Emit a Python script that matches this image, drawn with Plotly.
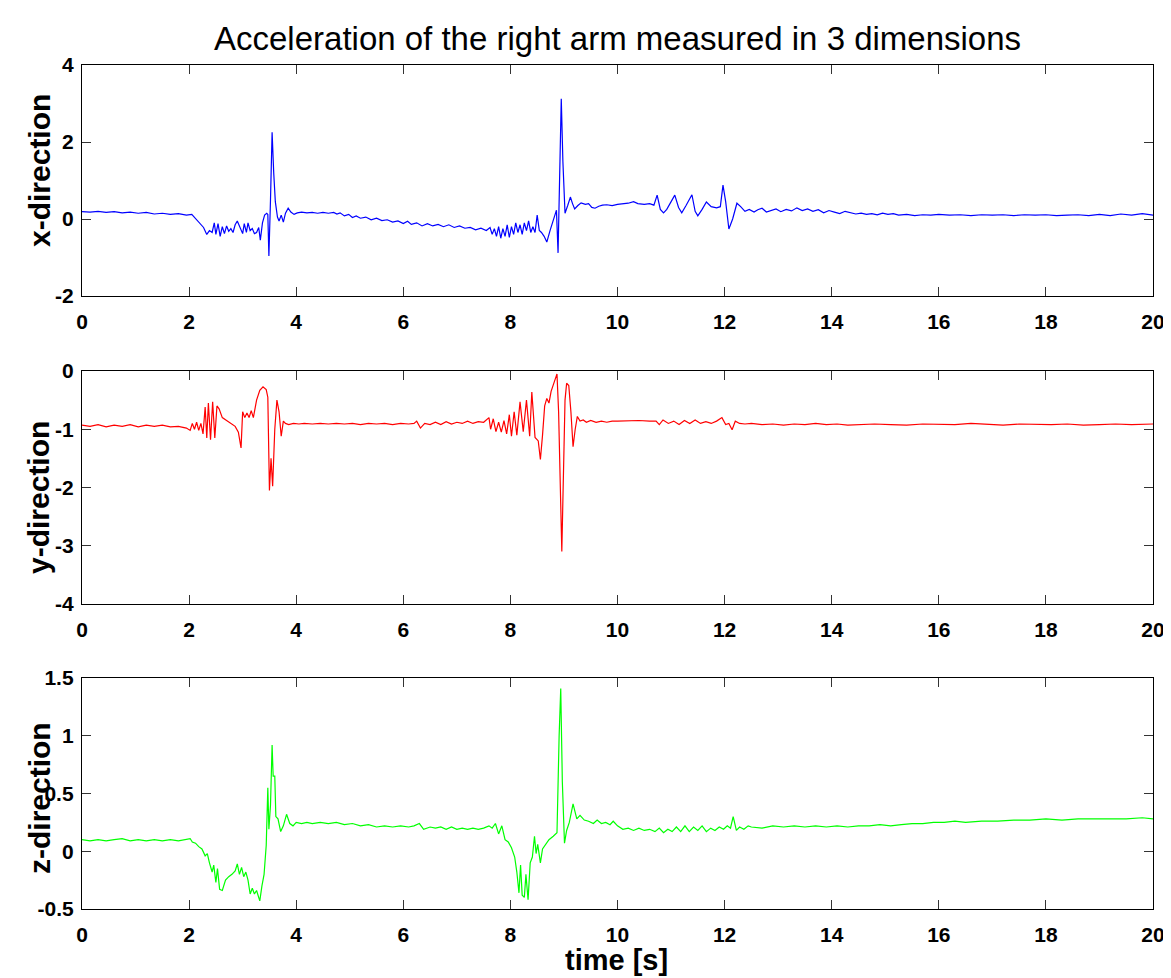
import plotly.graph_objects as go

# ---------------- data ----------------
t_x = [0.00, 0.15, 0.30, 0.45, 0.60, 0.75, 0.90, 1.05, 1.20, 1.35, 1.50, 1.65, 1.80, 1.95, 2.05,
       2.12, 2.20, 2.27, 2.33, 2.38, 2.43, 2.47, 2.50, 2.54, 2.58, 2.62, 2.66, 2.70, 2.74, 2.78,
       2.82, 2.86, 2.90, 2.95, 3.00, 3.03, 3.07, 3.10, 3.14, 3.18, 3.22, 3.26, 3.30, 3.33, 3.37,
       3.41, 3.45, 3.47, 3.49, 3.52, 3.55, 3.58, 3.61, 3.65, 3.68, 3.72, 3.76, 3.80, 3.85, 3.90,
       3.96, 4.02, 4.10, 4.20, 4.30, 4.40, 4.50, 4.60, 4.70, 4.76, 4.82, 4.90, 4.98, 5.05, 5.12,
       5.20, 5.30, 5.40, 5.50, 5.60, 5.70, 5.80, 5.90, 6.00, 6.08, 6.15, 6.25, 6.35, 6.45, 6.55,
       6.65, 6.75, 6.85, 6.95, 7.05, 7.15, 7.25, 7.35, 7.45, 7.55, 7.62, 7.66, 7.70, 7.74, 7.78,
       7.82, 7.86, 7.90, 7.94, 7.98, 8.02, 8.06, 8.10, 8.14, 8.18, 8.22, 8.26, 8.30, 8.34, 8.38,
       8.42, 8.46, 8.50, 8.54, 8.58, 8.63, 8.68, 8.74, 8.80, 8.86, 8.89, 8.92, 8.95, 8.98, 9.02,
       9.07, 9.12, 9.16, 9.20, 9.26, 9.32, 9.40, 9.46, 9.52, 9.58, 9.65, 9.72, 9.80, 9.90, 10.00,
       10.10, 10.20, 10.30, 10.38, 10.50, 10.60, 10.68, 10.74, 10.80, 10.86, 10.92, 11.00, 11.07, 11.14, 11.20,
       11.28, 11.39, 11.45, 11.50, 11.58, 11.66, 11.75, 11.85, 11.92, 11.97, 12.02, 12.08, 12.15, 12.23, 12.30,
       12.38, 12.46, 12.55, 12.62, 12.70, 12.78, 12.88, 12.96, 13.05, 13.15, 13.25, 13.35, 13.45, 13.55, 13.65,
       13.75, 13.85, 13.95, 14.05, 14.15, 14.25, 14.35, 14.45, 14.55, 14.65, 14.75, 14.85, 14.95, 15.05, 15.15,
       15.25, 15.40, 15.55, 15.70, 15.85, 16.00, 16.20, 16.40, 16.60, 16.80, 17.00, 17.20, 17.40, 17.60, 17.80,
       18.00, 18.20, 18.40, 18.60, 18.80, 19.00, 19.20, 19.40, 19.60, 19.80, 20.00]
acc_x = [0.19, 0.18, 0.20, 0.17, 0.19, 0.16, 0.18, 0.15, 0.17, 0.13, 0.15, 0.12, 0.14, 0.10, 0.12,
         0.02, -0.12, -0.22, -0.40, -0.30, -0.35, -0.10, -0.40, -0.12, -0.45, -0.20, -0.38, -0.18, -0.32, -0.25,
         -0.35, -0.15, -0.05, -0.20, -0.38, -0.12, -0.35, -0.10, -0.30, -0.25, -0.38, -0.35, -0.22, -0.55, -0.10,
         0.10, 0.15, 0.12, -0.96, 0.50, 2.25, 1.20, 0.45, 0.05, -0.05, 0.10, -0.08, 0.15, 0.28, 0.18,
         0.12, 0.16, 0.18, 0.16, 0.17, 0.15, 0.17, 0.15, 0.17, 0.13, 0.16, 0.08, 0.12, 0.04, 0.08,
         0.02, 0.05, -0.02, 0.02, -0.04, -0.02, -0.08, -0.05, -0.12, -0.06, -0.14, -0.10, -0.18, -0.12, -0.18,
         -0.14, -0.20, -0.15, -0.22, -0.18, -0.24, -0.22, -0.28, -0.24, -0.30, -0.22, -0.40, -0.25, -0.45, -0.20,
         -0.50, -0.25, -0.45, -0.15, -0.48, -0.20, -0.40, -0.10, -0.35, -0.15, -0.40, -0.10, -0.30, -0.05, -0.35,
         -0.20, -0.35, 0.10, -0.30, -0.35, -0.45, -0.60, -0.30, 0.00, 0.23, -0.88, 1.00, 3.12, 1.50, 0.15,
         0.35, 0.57, 0.40, 0.26, 0.35, 0.42, 0.38, 0.40, 0.30, 0.28, 0.33, 0.36, 0.37, 0.35, 0.38,
         0.40, 0.41, 0.45, 0.40, 0.38, 0.40, 0.36, 0.62, 0.25, 0.16, 0.25, 0.45, 0.62, 0.30, 0.16,
         0.35, 0.63, 0.20, 0.08, 0.25, 0.44, 0.32, 0.29, 0.32, 0.88, 0.45, -0.26, 0.00, 0.41, 0.32,
         0.20, 0.25, 0.18, 0.24, 0.28, 0.18, 0.22, 0.26, 0.19, 0.25, 0.21, 0.29, 0.22, 0.26, 0.20,
         0.24, 0.16, 0.22, 0.18, 0.14, 0.20, 0.16, 0.13, 0.15, 0.12, 0.14, 0.11, 0.15, 0.12, 0.14,
         0.10, 0.12, 0.09, 0.11, 0.10, 0.12, 0.10, 0.11, 0.09, 0.11, 0.10, 0.11, 0.09, 0.11, 0.10,
         0.11, 0.09, 0.10, 0.11, 0.09, 0.12, 0.09, 0.13, 0.10, 0.14, 0.10]

t_y = [0.00, 0.15, 0.30, 0.45, 0.60, 0.75, 0.90, 1.05, 1.20, 1.35, 1.50, 1.65, 1.80, 1.95, 2.02,
       2.06, 2.10, 2.14, 2.18, 2.22, 2.26, 2.30, 2.33, 2.36, 2.40, 2.44, 2.48, 2.52, 2.56, 2.62,
       2.70, 2.78, 2.86, 2.92, 2.97, 3.00, 3.04, 3.08, 3.12, 3.16, 3.20, 3.26, 3.32, 3.38, 3.44,
       3.47, 3.50, 3.53, 3.56, 3.60, 3.64, 3.68, 3.72, 3.76, 3.80, 3.86, 3.95, 4.05, 4.15, 4.30,
       4.45, 4.60, 4.75, 4.90, 5.05, 5.20, 5.35, 5.50, 5.65, 5.80, 5.95, 6.10, 6.20, 6.25, 6.32,
       6.40, 6.50, 6.60, 6.70, 6.80, 6.90, 7.00, 7.10, 7.20, 7.30, 7.40, 7.50, 7.60, 7.63, 7.68,
       7.73, 7.78, 7.83, 7.88, 7.93, 7.98, 8.02, 8.07, 8.12, 8.18, 8.24, 8.30, 8.36, 8.40, 8.46,
       8.52, 8.56, 8.60, 8.64, 8.68, 8.72, 8.76, 8.82, 8.87, 8.90, 8.93, 8.96, 8.99, 9.02, 9.05,
       9.09, 9.13, 9.17, 9.21, 9.25, 9.30, 9.36, 9.42, 9.50, 9.60, 9.70, 9.80, 9.90, 10.00, 10.20,
       10.40, 10.60, 10.72, 10.78, 10.85, 10.95, 11.05, 11.15, 11.25, 11.35, 11.45, 11.55, 11.65, 11.75, 11.85,
       11.95, 12.02, 12.08, 12.14, 12.20, 12.28, 12.38, 12.50, 12.70, 12.90, 13.10, 13.30, 13.50, 13.70, 13.90,
       14.10, 14.30, 14.50, 14.80, 15.10, 15.40, 15.70, 16.00, 16.30, 16.60, 16.90, 17.20, 17.50, 17.80, 18.10,
       18.40, 18.70, 19.00, 19.30, 19.60, 20.00]
acc_y = [-0.93, -0.95, -0.92, -0.96, -0.93, -0.95, -0.92, -0.96, -0.93, -0.95, -0.93, -0.96, -0.95, -0.98, -1.02,
         -0.90, -1.00, -0.88, -1.02, -0.90, -1.08, -0.62, -1.15, -0.55, -1.18, -0.53, -1.15, -0.60, -0.65, -0.80,
         -0.85, -0.90, -0.95, -1.05, -1.32, -0.70, -0.80, -0.72, -0.80, -0.68, -0.80, -0.50, -0.33, -0.27, -0.32,
         -0.45, -2.05, -1.50, -1.98, -1.00, -0.50, -0.70, -1.12, -0.86, -0.90, -0.92, -0.90, -0.91, -0.90, -0.91,
         -0.90, -0.91, -0.90, -0.91, -0.90, -0.92, -0.90, -0.91, -0.90, -0.92, -0.90, -0.91, -0.90, -0.86, -0.98,
         -0.90, -0.92, -0.88, -0.92, -0.87, -0.91, -0.88, -0.90, -0.86, -0.90, -0.87, -0.88, -0.80, -1.00, -0.82,
         -1.04, -0.88, -1.05, -0.85, -1.08, -0.75, -1.12, -0.70, -1.10, -0.53, -1.04, -0.50, -1.12, -0.36, -1.14,
         -1.20, -1.52, -1.10, -0.60, -0.47, -0.55, -0.35, -0.20, -0.05, -0.70, -2.20, -3.10, -1.80, -0.50, -0.21,
         -0.25, -0.70, -1.30, -1.00, -0.78, -0.86, -0.84, -0.88, -0.85, -0.88, -0.86, -0.88, -0.86, -0.86, -0.85,
         -0.85, -0.86, -0.86, -0.92, -0.84, -0.90, -0.86, -0.92, -0.85, -0.90, -0.84, -0.90, -0.87, -0.90, -0.86,
         -0.80, -0.92, -0.90, -1.01, -0.86, -0.90, -0.91, -0.90, -0.92, -0.91, -0.93, -0.91, -0.92, -0.90, -0.92,
         -0.91, -0.93, -0.92, -0.91, -0.92, -0.93, -0.91, -0.92, -0.92, -0.90, -0.92, -0.93, -0.91, -0.92, -0.92,
         -0.91, -0.93, -0.92, -0.91, -0.92, -0.91]

t_z = [0.00, 0.15, 0.30, 0.45, 0.60, 0.75, 0.90, 1.05, 1.20, 1.35, 1.50, 1.65, 1.80, 1.92, 2.02,
       2.06, 2.12, 2.18, 2.24, 2.30, 2.34, 2.38, 2.43, 2.46, 2.50, 2.53, 2.57, 2.62, 2.68, 2.74,
       2.80, 2.86, 2.90, 2.94, 2.98, 3.02, 3.06, 3.10, 3.14, 3.18, 3.22, 3.26, 3.32, 3.36, 3.40,
       3.44, 3.47, 3.49, 3.52, 3.55, 3.57, 3.60, 3.62, 3.66, 3.71, 3.76, 3.82, 3.88, 3.94, 4.00,
       4.10, 4.20, 4.30, 4.45, 4.60, 4.75, 4.90, 5.05, 5.20, 5.35, 5.50, 5.65, 5.80, 5.95, 6.10,
       6.20, 6.30, 6.38, 6.50, 6.60, 6.70, 6.80, 6.90, 7.00, 7.10, 7.20, 7.30, 7.40, 7.50, 7.60,
       7.66, 7.72, 7.78, 7.84, 7.90, 7.96, 8.02, 8.08, 8.12, 8.16, 8.19, 8.22, 8.26, 8.29, 8.33,
       8.37, 8.41, 8.45, 8.48, 8.51, 8.56, 8.60, 8.66, 8.72, 8.80, 8.87, 8.91, 8.94, 8.97, 9.01,
       9.05, 9.10, 9.17, 9.24, 9.30, 9.38, 9.46, 9.55, 9.62, 9.70, 9.78, 9.86, 9.92, 10.00, 10.10,
       10.20, 10.30, 10.40, 10.50, 10.60, 10.70, 10.78, 10.86, 10.94, 11.02, 11.10, 11.18, 11.26, 11.34, 11.42,
       11.50, 11.58, 11.66, 11.74, 11.82, 11.90, 11.98, 12.05, 12.11, 12.16, 12.22, 12.28, 12.36, 12.44, 12.50,
       12.70, 12.90, 13.10, 13.30, 13.50, 13.70, 13.90, 14.10, 14.30, 14.50, 14.70, 14.90, 15.10, 15.30, 15.50,
       15.70, 15.90, 16.10, 16.30, 16.50, 16.80, 17.10, 17.40, 17.70, 18.00, 18.30, 18.60, 18.90, 19.20, 19.50,
       19.80, 20.00]
acc_z = [0.10, 0.09, 0.10, 0.09, 0.10, 0.11, 0.09, 0.10, 0.09, 0.10, 0.09, 0.10, 0.09, 0.10, 0.11,
         0.08, 0.07, 0.04, 0.02, -0.04, -0.02, -0.10, -0.18, -0.12, -0.27, -0.15, -0.33, -0.34, -0.25, -0.22,
         -0.20, -0.17, -0.11, -0.20, -0.14, -0.22, -0.18, -0.25, -0.37, -0.32, -0.37, -0.34, -0.43, -0.30, -0.20,
         0.05, 0.55, 0.19, 0.40, 0.92, 0.65, 0.65, 0.30, 0.28, 0.17, 0.22, 0.32, 0.24, 0.22, 0.25,
         0.24, 0.25, 0.24, 0.25, 0.24, 0.25, 0.23, 0.24, 0.22, 0.23, 0.21, 0.22, 0.21, 0.22, 0.21,
         0.22, 0.24, 0.19, 0.21, 0.20, 0.21, 0.19, 0.21, 0.19, 0.20, 0.19, 0.20, 0.19, 0.20, 0.22,
         0.20, 0.24, 0.15, 0.22, 0.10, 0.08, 0.03, -0.05, -0.18, -0.36, -0.12, -0.38, -0.40, -0.20, -0.42,
         -0.10, -0.05, 0.13, -0.02, 0.06, -0.10, 0.02, 0.06, 0.10, 0.13, 0.16, 1.00, 1.41, 0.60, 0.07,
         0.18, 0.25, 0.41, 0.28, 0.31, 0.27, 0.26, 0.24, 0.27, 0.24, 0.25, 0.23, 0.26, 0.22, 0.19,
         0.20, 0.18, 0.20, 0.18, 0.19, 0.17, 0.20, 0.16, 0.19, 0.17, 0.21, 0.17, 0.22, 0.17, 0.21,
         0.18, 0.22, 0.17, 0.20, 0.18, 0.21, 0.19, 0.22, 0.20, 0.30, 0.18, 0.21, 0.19, 0.22, 0.21,
         0.20, 0.22, 0.21, 0.22, 0.21, 0.22, 0.21, 0.22, 0.21, 0.22, 0.22, 0.23, 0.22, 0.23, 0.24,
         0.24, 0.25, 0.25, 0.26, 0.25, 0.26, 0.26, 0.27, 0.27, 0.28, 0.27, 0.28, 0.28, 0.28, 0.28,
         0.29, 0.28]

x_ticks = [0, 2, 4, 6, 8, 10, 12, 14, 16, 18, 20]
x_ticktext = ["0", "2", "4", "6", "8", "10", "12", "14", "16", "18", "20"]
y1_ticks = [-2, 0, 2, 4]
y1_ticktext = ["-2", "0", "2", "4"]
y2_ticks = [-4, -3, -2, -1, 0]
y2_ticktext = ["-4", "-3", "-2", "-1", "0"]
y3_ticks = [-0.5, 0, 0.5, 1, 1.5]
y3_ticktext = ["-0.5", "0", "0.5", "1", "1.5"]

title_text = "Acceleration of the right arm measured in 3 dimensions"
ylabels = ["x-direction", "y-direction", "z-direction"]
xlabel = "time [s]"

# ---------------- figure ----------------
# The page adds an 8 px body margin, so the figure is 8 px smaller than the window
# and all page positions below are shifted by that offset.
OFF = 8
W, H = 1171 - OFF, 978 - OFF
FONT = "Liberation Sans, Arial, Helvetica, sans-serif"


def fx(px):
    return (px - OFF) / W


def fy(py):
    return 1 - (py - OFF) / H


fig = go.Figure()
fig.add_trace(go.Scatter(x=t_x, y=acc_x, mode="lines", line=dict(color="#0000ff", width=1.2),
                         xaxis="x", yaxis="y", showlegend=False))
fig.add_trace(go.Scatter(x=t_y, y=acc_y, mode="lines", line=dict(color="#ff0000", width=1.2),
                         xaxis="x2", yaxis="y2", showlegend=False))
fig.add_trace(go.Scatter(x=t_z, y=acc_z, mode="lines", line=dict(color="#00ff00", width=1.2),
                         xaxis="x3", yaxis="y3", showlegend=False))

rows = [(65, 296), (371, 604), (678, 909)]
doms = [[fy(b), fy(t)] for (t, b) in rows]

tickfont = dict(family=FONT, size=21, color="black", weight="bold")
common_x = dict(range=[0, 20], tickvals=x_ticks, ticktext=x_ticktext, showline=True, mirror="ticks",
                linecolor="black", linewidth=1.3, ticks="inside", ticklen=9, tickcolor="#333333",
                tickwidth=1.3, showgrid=False, zeroline=False, tickfont=tickfont, domain=[fx(82), fx(1153)],
                ticklabelstandoff=7, automargin=False)
common_y = dict(showline=True, mirror="ticks", linecolor="black", linewidth=1.3, ticks="inside",
                ticklen=9, tickcolor="#333333", tickwidth=1.3, showgrid=False, zeroline=False,
                tickfont=tickfont, ticklabelstandoff=3, automargin=False)

layout = dict(
    width=W, height=H, autosize=False,
    margin=dict(l=0, r=0, t=0, b=0, pad=0, autoexpand=False),
    paper_bgcolor="white", plot_bgcolor="white",
    xaxis=dict(common_x, anchor="y"),
    xaxis2=dict(common_x, anchor="y2"),
    xaxis3=dict(common_x, anchor="y3"),
    yaxis=dict(common_y, domain=doms[0], range=[-2, 4], tickvals=y1_ticks, ticktext=y1_ticktext, anchor="x"),
    yaxis2=dict(common_y, domain=doms[1], range=[-4, 0], tickvals=y2_ticks, ticktext=y2_ticktext, anchor="x2"),
    yaxis3=dict(common_y, domain=doms[2], range=[-0.5, 1.5], tickvals=y3_ticks, ticktext=y3_ticktext, anchor="x3"),
)
fig.update_layout(**layout)

ann = [dict(text=title_text, x=fx(617), y=fy(39), xref="paper", yref="paper", showarrow=False,
            font=dict(family=FONT, size=33, color="black"), xanchor="center", yanchor="middle"),
       dict(text=xlabel, x=fx(616), y=1, xref="paper", yref="paper", yshift=0, showarrow=False,
            font=dict(family=FONT, size=29, color="black", weight="bold"), xanchor="center", yanchor="middle")]
ann[1]["y"] = fy(960)
label_pos = [(39, 171), (38, 498), (39, 798)]
for lab, (px, py) in zip(ylabels, label_pos):
    ann.append(dict(text=lab, x=fx(px), y=fy(py), xref="paper", yref="paper", showarrow=False,
                    textangle=-90, font=dict(family=FONT, size=30, color="black", weight="bold"),
                    xanchor="center", yanchor="middle"))
fig.update_layout(annotations=ann)

fig.write_html("out.html")
